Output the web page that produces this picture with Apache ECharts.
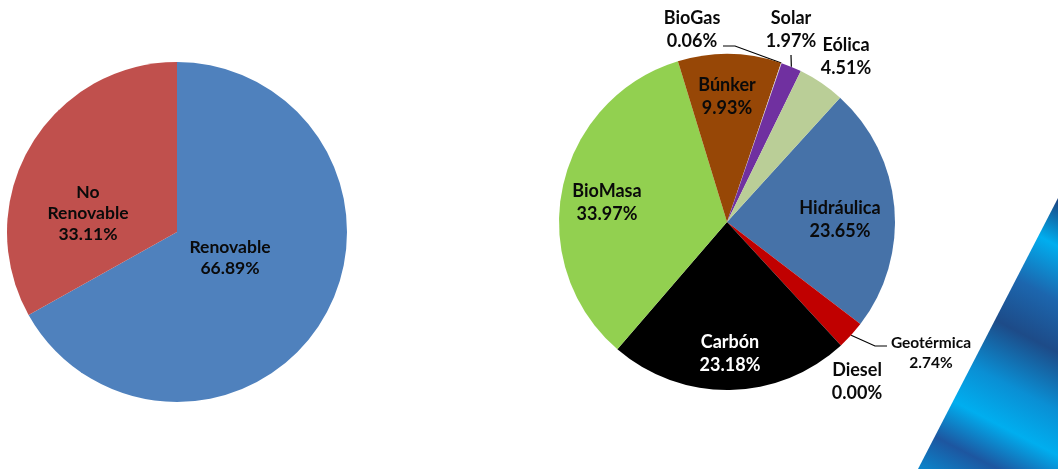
<!DOCTYPE html>
<html>
<head>
<meta charset="utf-8">
<script src="https://cdn.jsdelivr.net/npm/echarts@6/dist/echarts.min.js"></script>
<style>
  html, body { margin: 0; padding: 0; background: #fff; }
  #chart { width: 1058px; height: 469px; }
</style>
</head>
<body>
<div id="chart"></div>
<script>
// datos
var leftNames = ['Renovable', 'No Renovable'];
var leftValues = [66.89, 33.11];

var rightNames = ['Hidráulica', 'Geotérmica', 'Diesel', 'Carbón', 'BioMasa', 'Búnker', 'BioGas', 'Solar', 'Eólica'];
var rightValues = [23.65, 2.74, 0.00, 23.18, 33.97, 9.93, 0.06, 1.97, 4.51];

// colores y posiciones de etiquetas
var leftColors = ['#4F81BD', '#C0504D'];
var rightColors = ['#4672A8', '#C00000', '#7F7F7F', '#000000', '#92D050', '#974706', '#D9D9D9', '#7030A0', '#BACE97'];
var leftLabelPos = [[230, 258], [88, 213]];
var rightLabelPos = [[840, 220], [931, 353], [857, 382], [730, 354], [607, 203], [727, 97], [692, 30], [791, 30], [846, 57]];
var rightInside = [true, false, false, true, true, true, false, false, false];
// codo y final de las lineas guia
var rightLines = { 1: [[875, 346], [887, 346]], 6: [[735, 46], [723, 46]], 7: [[791, 55]] };

var getEle = function (ele) {
  return document.querySelector(ele);
};

function fmt(p) {
  return p.name.replace(' ', '\n') + '\n' + p.value.toFixed(2) + '%';
}

var leftData = [];
for (var i = 0; i < leftNames.length; i++) {
  leftData.push({ name: leftNames[i], value: leftValues[i], itemStyle: { color: leftColors[i] } });
}

var rightData = [];
for (var j = 0; j < rightNames.length; j++) {
  var item = { name: rightNames[j], value: rightValues[j], itemStyle: { color: rightColors[j] } };
  item.label = { position: rightInside[j] ? 'inside' : 'outside' };
  if (j === 1) item.label.fontSize = 15.5;
  if (j === 1) item.label.lineHeight = 20;
  if (j === 3) item.label.color = '#ffffff';
  item.labelLine = { show: !!rightLines[j], lineStyle: { color: '#000', width: 1.2 } };
  rightData.push(item);
}

var option = {
  backgroundColor: '#ffffff',
  animation: false,
  graphic: [{
    type: 'polygon',
    z: -1,
    shape: { points: [[1058, 198], [1058, 469], [918, 469]] },
    style: {
      fill: new echarts.graphic.LinearGradient(1, 0, 0, 1, [
        { offset: 0, color: '#1c3f7c' },
        { offset: 0.14, color: '#00aeef' },
        { offset: 0.3, color: '#1c66ae' },
        { offset: 0.45, color: '#1d4b88' },
        { offset: 0.62, color: '#0a8fd4' },
        { offset: 0.75, color: '#00aeef' },
        { offset: 0.88, color: '#1d56a0' },
        { offset: 1, color: '#0a86cc' }
      ])
    }
  }],
  series: [{
    type: 'pie',
    center: [177, 232],
    radius: 170,
    startAngle: 90,
    clockwise: true,
    avoidLabelOverlap: false,
    data: leftData,
    label: {
      position: 'inside',
      formatter: fmt,
      fontFamily: 'Lato',
      fontWeight: 'bold',
      fontSize: 17.5,
      lineHeight: 21,
      color: '#0a0a0a'
    },
    labelLayout: function (p) {
      var pos = leftLabelPos[p.dataIndex];
      return { x: pos[0], y: pos[1], align: 'center', verticalAlign: 'middle' };
    }
  }, {
    type: 'pie',
    center: [727, 222],
    radius: 168,
    startAngle: 47.7,
    clockwise: true,
    avoidLabelOverlap: false,
    data: rightData,
    label: {
      formatter: fmt,
      fontFamily: 'Lato',
      fontWeight: 'bold',
      fontSize: 18,
      lineHeight: 23,
      color: '#0a0a0a'
    },
    labelLine: { length: 10, length2: 10 },
    labelLayout: function (p) {
      var pos = rightLabelPos[p.dataIndex];
      var out = { x: pos[0], y: pos[1], align: 'center', verticalAlign: 'middle' };
      var ln = rightLines[p.dataIndex];
      if (ln && p.labelLinePoints) {
        out.labelLinePoints = [p.labelLinePoints[0]].concat(ln);
      }
      return out;
    }
  }]
};

window.onload = function () {
  var myChart = echarts.init(getEle('#chart'));
  myChart.setOption(option);
  window.addEventListener('resize', function () {
    myChart.resize();
  }, false);
};
</script>
</body>
</html>
